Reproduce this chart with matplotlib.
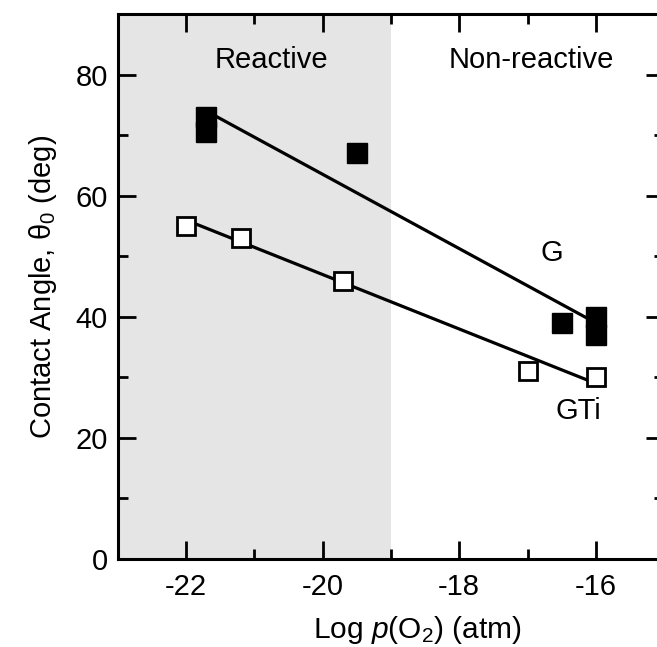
import matplotlib
matplotlib.use('Agg')
from matplotlib import pyplot as plt
from matplotlib.ticker import MultipleLocator

plt.rcParams['font.family'] = ['Liberation Sans', 'DejaVu Sans']
plt.rcParams['mathtext.fontset'] = 'custom'
plt.rcParams['mathtext.rm'] = 'Liberation Sans'
plt.rcParams['mathtext.it'] = 'Liberation Sans:italic'
plt.rcParams['axes.unicode_minus'] = False

# G (filled squares)
g_x = [-21.7, -21.7, -19.5, -16.5, -16.0, -16.0]
g_y = [73.0, 70.5, 67.0, 39.0, 40.0, 37.0]
g_fit_x = [-21.7, -16.0]
g_fit_y = [74.0, 39.0]

# GTi (open squares)
gti_x = [-22.0, -21.2, -19.7, -17.0, -16.0]
gti_y = [55.0, 53.0, 46.0, 31.0, 30.0]
gti_fit_x = [-22.0, -16.0]
gti_fit_y = [56.0, 29.0]

reactive_limit = -19.0
fs = 21

fig = plt.figure(figsize=(6.57, 6.47), dpi=100)
ax = fig.add_axes([0.179, 0.136, 0.832, 0.842])

ax.axvspan(-23, reactive_limit, color='#e5e5e5', zorder=0, lw=0)

ax.plot(g_fit_x, g_fit_y, color='black', lw=2.3, zorder=2)
ax.plot(gti_fit_x, gti_fit_y, color='black', lw=2.3, zorder=2)
ax.plot(g_x, g_y, 's', color='black', ms=14.5, mec='black', zorder=3)
ax.plot(gti_x, gti_y, 's', mfc='white', mec='black', mew=2.0, ms=13, zorder=3)

ax.text(-20.75, 82.5, 'Reactive', ha='center', va='center', fontsize=fs)
ax.text(-16.95, 82.5, 'Non-reactive', ha='center', va='center', fontsize=fs)
ax.text(-16.65, 50.5, 'G', ha='center', va='center', fontsize=fs)
ax.text(-16.25, 24.5, 'GTi', ha='center', va='center', fontsize=fs)

ax.set_xlim(-23, -15)
ax.set_ylim(0, 90)
ax.xaxis.set_major_locator(MultipleLocator(2))
ax.xaxis.set_minor_locator(MultipleLocator(1))
ax.yaxis.set_major_locator(MultipleLocator(20))
ax.yaxis.set_minor_locator(MultipleLocator(10))
ax.tick_params(which='both', direction='in', top=True, right=True, width=2, labelsize=fs)
ax.tick_params(which='major', length=13)
ax.tick_params(which='minor', length=7)
ax.tick_params(axis='x', which='major', pad=10)
ax.tick_params(axis='y', which='major', pad=7)
for s in ax.spines.values():
    s.set_linewidth(2.2)

ax.set_xlabel('Log $p$(O$_2$) (atm)', fontsize=21.5)
ax.xaxis.set_label_coords(0.549, -0.101)
ax.set_ylabel('Contact Angle, θ$_0$ (deg)', fontsize=fs, labelpad=12)

fig.savefig('out.png', dpi=100)
